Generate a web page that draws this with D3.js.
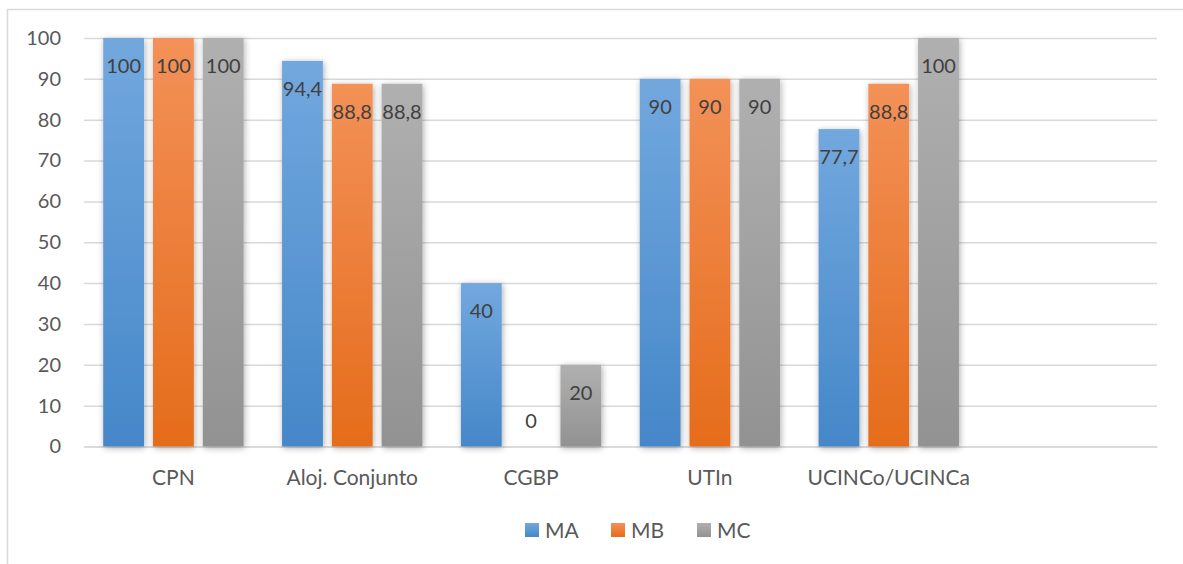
<!DOCTYPE html>
<html>
<head>
<meta charset="utf-8">
<script src="https://cdn.jsdelivr.net/npm/d3@7"></script>
<style>
  html, body { margin: 0; padding: 0; background: #ffffff; }
  svg { display: block; font-family: Lato, "Open Sans", sans-serif; }
</style>
</head>
<body>
<svg id="chart" width="1183" height="564"></svg>
<script>
// Unit categories (the last slot is an empty category)
const categories = ["CPN", "Aloj. Conjunto", "CGBP", "UTIn", "UCINCo/UCINCa", ""];
const seriesNames = ["MA", "MB", "MC"];
const valuesMA = [100, 94.4, 40, 90, 77.7, null];
const valuesMB = [100, 88.8, 0, 90, 88.8, null];
const valuesMC = [100, 88.8, 20, 90, 100, null];
const yTicks = [0, 10, 20, 30, 40, 50, 60, 70, 80, 90, 100];

const seriesValues = [valuesMA, valuesMB, valuesMC];
const colors = {
  MA: ["#72a8de", "#4587c9"],
  MB: ["#f39158", "#e56c1b"],
  MC: ["#b0b0b0", "#929292"]
};

const svg = d3.select("#chart");
const plot = { left: 84, right: 1157, top: 38, bottom: 446.5 };

// Chart frame (top and left edges visible)
svg.append("path")
  .attr("d", "M7.5,564 V9.5 H1183")
  .attr("fill", "none")
  .attr("stroke", "#d9d9d9")
  .attr("stroke-width", 1.5);

const defs = svg.append("defs");
seriesNames.forEach(s => {
  const g = defs.append("linearGradient")
    .attr("id", "grad-" + s)
    .attr("x1", 0).attr("y1", 0).attr("x2", 0).attr("y2", 1);
  g.append("stop").attr("offset", "0%").attr("stop-color", colors[s][0]);
  g.append("stop").attr("offset", "100%").attr("stop-color", colors[s][1]);
});
const shadow = defs.append("filter")
  .attr("id", "barShadow")
  .attr("x", "-30%").attr("y", "-10%").attr("width", "160%").attr("height", "120%");
shadow.append("feDropShadow")
  .attr("dx", 1).attr("dy", 1.5).attr("stdDeviation", 3)
  .attr("flood-color", "#000").attr("flood-opacity", 0.32);

const x0 = d3.scaleBand()
  .domain(categories.map((c, i) => i))
  .range([plot.left, plot.right])
  .paddingInner(0).paddingOuter(0);

// Group occupies ~78% of each category slot
const groupWidth = x0.bandwidth() * 0.785;
const x1 = d3.scaleBand()
  .domain(seriesNames)
  .range([0, groupWidth])
  .paddingInner(0.18).paddingOuter(0);

const y = d3.scaleLinear().domain([0, 100]).range([plot.bottom, plot.top]);

// Horizontal gridlines
const yAxis = d3.axisLeft(y).tickValues(yTicks).tickSize(-(plot.right - plot.left)).tickPadding(23);
const yg = svg.append("g")
  .attr("transform", `translate(${plot.left},0)`)
  .call(yAxis);
yg.select(".domain").remove();
yg.selectAll(".tick line").attr("stroke", "#d9d9d9").attr("stroke-width", 1.5);
yg.selectAll(".tick text")
  .attr("fill", "#595959")
  .attr("font-size", 20)
  .attr("font-family", "Lato, 'Open Sans', sans-serif");

// Category axis labels
const xAxis = d3.axisBottom(x0).tickFormat(i => categories[i]).tickSize(0).tickPadding(24);
const xg = svg.append("g")
  .attr("transform", `translate(0,${plot.bottom})`)
  .call(xAxis);
xg.select(".domain").attr("stroke", "#d9d9d9").attr("stroke-width", 1.5);
xg.selectAll(".tick text")
  .attr("fill", "#595959")
  .attr("font-size", 21)
  .attr("font-family", "Lato, 'Open Sans', sans-serif");

// Bars
const rows = [];
categories.forEach((c, i) => {
  seriesNames.forEach((s, k) => {
    const v = seriesValues[k][i];
    if (v !== null) rows.push({ cat: i, series: s, value: v });
  });
});

const groupOffset = (x0.bandwidth() - groupWidth) / 2;
const barX = d => x0(d.cat) + groupOffset + x1(d.series);

svg.append("g").selectAll("rect")
  .data(rows.filter(d => d.value > 0))
  .join("rect")
  .attr("x", barX)
  .attr("y", d => y(d.value))
  .attr("width", x1.bandwidth())
  .attr("height", d => y(0) - y(d.value))
  .attr("fill", d => `url(#grad-${d.series})`)
  .attr("filter", "url(#barShadow)");

// Value labels inside the top end of each bar
const fmt = v => String(v).replace(".", ",");
svg.append("g").selectAll("text")
  .data(rows)
  .join("text")
  .attr("x", d => barX(d) + x1.bandwidth() / 2)
  .attr("y", d => d.value > 0 ? y(d.value) + 35 : y(0) - 19)
  .attr("text-anchor", "middle")
  .attr("fill", "#404040")
  .attr("font-size", 20)
  .text(d => fmt(d.value));

// Legend
const legendX = [525, 611, 697];
const legend = svg.append("g").selectAll("g")
  .data(seriesNames)
  .join("g")
  .attr("transform", (d, i) => `translate(${legendX[i]},523)`);
legend.append("rect")
  .attr("width", 14).attr("height", 14)
  .attr("fill", d => `url(#grad-${d})`);
legend.append("text")
  .attr("x", 20).attr("y", 7)
  .attr("dy", "0.36em")
  .attr("fill", "#595959")
  .attr("font-size", 21)
  .text(d => d);
</script>
</body>
</html>
